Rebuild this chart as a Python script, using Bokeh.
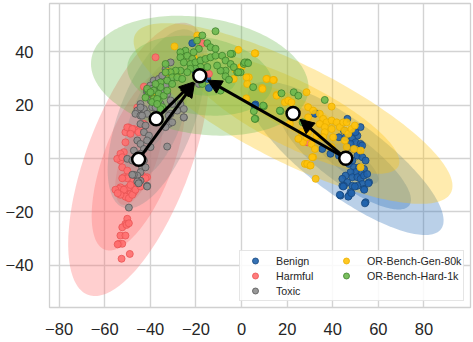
import numpy as np
from bokeh.plotting import figure
from bokeh.models import Range1d, FixedTicker, Arrow, NormalHead, Legend, LegendItem
from bokeh.embed import file_html
from bokeh.resources import INLINE

# ---------------- data ----------------
categories = ["Benign", "Harmful", "Toxic", "OR-Bench-Gen-80k", "OR-Bench-Hard-1k"]
fill_colors = ["#2063ad", "#ff6e6e", "#8e8e8e", "#ffc20a", "#6cb84e"]
edge_colors = ["#17477e", "#e85454", "#555555", "#e8ae00", "#3f822c"]
ell_colors = ["#2f6fb8", "#ff6e6e", "#8e8e8e", "#ffc20a", "#6cb84e"]

benign_x = [46.4, 44.9, 47.1, 49.3, 50.8, 48.6, 50.0, 52.2, 52.9, 47.8, 46.4, 49.3, 51.5, 50.8, 53.0,
            54.4, 48.6, 47.1, 49.3, 51.5, 53.7, 52.2, 50.0, 47.8, 45.6, 44.2, 46.4, 44.9, 48.6, 50.8,
            52.2, 53.7, 55.1, 55.9, 53.0, 50.8, 48.6, 53.7, 43.4, 47.1, 47.8, 54.4, 44.2, 42.7, 39.0,
            35.4, 32.5, 42.7, 50.0, 52.2, 45.6, 43.1, 46.8, 48.2, 54.1, 44.6, 49.7, 55.6, 53.8,
            -21.6, -20.2, -15.0, -14.3, 6.1, 32.2, 5.8]
benign_y = [14.9, 10.5, 9.3, 9.9, 8.6, 7.4, 6.1, 5.5, 4.9, 5.5, 4.3, 3.6, 2.4, 1.1, 0.5,
            -0.75, -0.75, -2.0, -3.3, -3.3, -3.9, -5.1, -5.1, -5.1, -6.4, -7.6, -8.9, -10.2, -7.0, -7.0,
            -7.6, -6.4, -5.8, -8.9, -9.5, -10.2, -10.2, -11.4, -13.9, -13.9, -12.6, -16.4, -10.2, 1.1, 1.8,
            3.6, 17.0, 8.0, 9.9, 11.8, 8.0, -13.6, -14.3, -13.0, -16.8, -10.5, -10.5, -9.3, -11.7,
            43.3, 33.0, 29.9, 26.5, 20.3, 16.8, 19.9]

harmful_x = [-49.4, -47.2, -50.9, -48.6, -45.7, -44.3, -50.9, -51.6, -53.1, -52.3, -50.1, -51.6, -53.1,
             -50.9, -49.4, -48.7, -47.2, -45.7, -50.1, -47.9, -41.4, -43.6, -45.1, -53.8, -51.6,
             -50.1, -50.9, -52.3, -53.1, -50.9, -53.8, -52.3, -49.0, -52.6, -54.3, -50.4, -49.4,
             -55.3, -51.6, -50.9, -49.4, -47.9, -46.5, -44.3, -42.1, -45.1, -50.1, -48.7, -53.1, -54.3,
             -52.3, -37.7, -17.2, -14.3, -45.7, -50.1, -47.9, -45.1, -48.7, -42.8, -53.1, -54.5, -52.3,
             -42.8, -39.2, 28.8]
harmful_y = [11.7, 11.1, 9.9, 9.9, 10.5, 11.7, 6.1, 2.4, -0.75, -3.3, -4.5, -7.0, -10.8,
             -11.4, -10.8, -13.3, -12.6, -9.5, -14.5, -8.3, -7.0, -6.4, -8.3, -11.4, -12.6,
             -22.6, -24.5, -25.8, -28.9, -28.9, -32.0, -32.0, -35.8, -37.6, -32.2, -24.9, -24.3,
             -11.7, -11.7, -14.3, -14.9, -13.6, -11.7, -10.5, -7.4, -8.6, -7.4, -9.9, -13.6, -13.0,
             -7.4, 38.0, 43.3, 31.8, 19.2, 11.7, 11.1, 9.9, 9.3, 13.0, 1.8, -0.1, 0.5,
             27.0, 23.0, 6.1]

toxic_x = [-38.5, -36.3, -40.0, -37.7, -41.4, -39.2, -35.5, -33.3, -31.1, -36.9, -44.3, -42.8, -45.7,
           -46.5, -44.3, -41.4, -39.2, -35.5, -30.4, -26.8, -28.2, -31.1, -31.9, -33.3, -25.3, -25.3,
           -44.3, -42.1, -42.8, -40.6, -45.7, -44.3, -47.2, -42.8, -39.9, -44.3, -50.1, -47.9, -42.8,
           -43.6, -44.3, -42.1, -45.7, -44.3, -45.1, -41.4, -49.4, -32.6, -41.4,
           -31.1, -33.3, -34.8, -36.9, -39.2, -34.8, -32.6, -31.1, -39.9, -37.7, -44.3, -43.6,
           -34.1, -31.9, -25.3, -30.4, -18.7, -41.4, -47.2, -45.7, -45.1, -41.4, -47.9]
toxic_y = [29.3, 29.9, 27.4, 26.8, 24.9, 24.3, 25.5, 27.4, 29.3, 23.0, 20.5, 18.6, 18.0,
           16.8, 16.1, 16.8, 19.3, 20.5, 20.5, 20.5, 18.0, 16.8, 13.0, 11.8, 18.6, 15.4,
           13.0, 12.4, 9.9, 8.6, 6.8, 5.5, 3.0, 3.6, 4.3, 1.8, -0.1, -0.75, -0.75,
           -3.3, -5.1, -3.3, -6.4, -8.3, -9.0, -10.2, -18.4, 4.5, 6.8,
           36.1, 33.6, 31.1, 28.0, 26.2, 25.5, 24.3, 21.8, 21.8, 19.2, 19.2, 16.1,
           18.6, 16.1, 15.5, 13.6, 28.0, 25.5, -6.1, -8.6, -9.3, -10.5, -6.1]

gen_x = [-29.4, -19.4, 6.1, -2.6, -0.4, 3.2, 2.5, 9.1, 11.3, 14.2, 15.4, 2.1, -3.4, -38.2, -31.9, -28.2,
         -1.4, 5.8, 0.0, 2.2, 9.2, 10.9, 13.9, 19.0, 15.4, 20.5, 21.9, 28.5, 29.2, 31.4, 39.5,
         34.3, 35.8, 37.3, 39.5, 34.3, 36.5, 41.7, 43.1, 44.6, 46.1, 36.5, 39.5, 29.2, 40.2, 35.8,
         29.2, 27.0, 28.5, 24.9, 30.7, 32.2, 39.5, 31.4, 27.8, 29.9, 45.3, 45.3, 46.8, 48.2, 46.1,
         49.7, 32.9, 26.3, 21.2, 32.5, 28.8, 30.3, 31.0, 52.2, 52.2, 49.3, -20.9, -32.6, -30.4]
gen_y = [42.1, 46.2, 39.5, 33.3, 34.3, 30.5, 28.0, 26.5, 29.9, 29.5, 23.9, 22.6, 29.9, 23.0, 32.4, 32.4,
         40.8, 39.5, 34.3, 30.5, 26.1, 29.9, 29.5, 21.1, 23.6, 21.8, 21.1, 24.9, 19.3, 18.0, 19.5,
         16.8, 14.9, 13.6, 14.3, 13.0, 11.8, 13.6, 11.8, 13.6, 13.6, 9.9, 11.1, 15.5, 8.0, 8.0,
         9.9, 6.1, 8.0, 7.4, 5.5, 3.6, 4.3, 0.5, -2.0, -2.6, 6.8, 10.5, 9.3, 11.1, 4.3,
         12.4, 8.6, 9.9, 13.0, -7.6, -2.0, -2.6, 0.5, -3.3, 3.0, 3.6, 37.8, 32.4, 31.8]

hard_x = [-17.2, -19.5, -15.0, -11.4, -13.6, -11.4, -18.7, -21.0, -24.6, -26.8, -26.8, -23.8, -21.6,
          -25.3, -22.4, -20.2, -18.0, -15.8, -13.6, -11.4, -8.5, -7.0, -4.8, -1.9, -4.1, 1.0, 2.5,
          -7.0, -9.2, -10.7, -7.0, -5.5, -15.0, -18.0, -20.2, -22.4, -23.8, -26.8, -28.9, -31.1,
          -33.3, -33.3, -30.4, -28.2, -26.0, -32.6, -30.4, -35.5, -35.5, -37.7, -38.5, -36.3, -34.1,
          -32.6, -40.6, -38.5, -36.3, -34.8, -39.2, -37.7, -42.1, -17.2, 6.1, 5.4, 17.1, 9.8,
          -41.4, -39.9, -37.0, -35.5, -37.0, -4.8, -3.4, -0.4, -9.2,
          1.4, 2.9, -1.4, 5.1, 9.5, 5.8, 17.5, 22.9, 24.9, 16.8, 36.5, 26.8]
hard_y = [46.2, 44.3, 43.3, 47.8, 41.8, 41.2, 41.2, 39.9, 40.5, 39.9, 38.0, 38.6, 37.4,
          36.1, 35.5, 36.1, 36.8, 37.4, 38.0, 38.6, 38.6, 36.8, 35.5, 32.4, 39.3, 35.5, 36.1,
          33.0, 33.0, 34.9, 30.9, 29.6, 34.4, 34.4, 33.7, 33.7, 32.4, 33.0, 33.0, 32.4,
          35.5, 32.4, 30.5, 30.5, 29.9, 29.3, 28.0, 28.6, 26.8, 28.0, 25.5, 24.3, 23.6,
          25.5, 24.9, 22.4, 21.8, 19.3, 21.2, 16.1, 22.9, 28.0, 14.9, 17.8, 17.8, 19.6,
          26.2, 24.9, 22.4, 18.6, 20.5, 39.3, 34.3, 32.4, 25.5,
          36.1, 35.8, 32.4, 26.8, 19.9, 14.9, 24.5, 24.9, 23.6, 18.0, 22.0, 13.6]

points_x = [benign_x, harmful_x, toxic_x, gen_x, hard_x]
points_y = [benign_y, harmful_y, toxic_y, gen_y, hard_y]

# group statistics (mean, std, correlation)
centroid_x = [45.7, -45.1, -37.4, 22.6, -18.3]
centroid_y = [0.1, -0.3, 14.9, 16.9, 31.1]
std_x = [14.3, 10.3, 7.1, 23.3, 15.9]
std_y = [9.6, 17.1, 11.2, 11.3, 7.5]
corr = [-0.81, 0.62, 0.57, -0.80, -0.20]
n_stds = [3, 2, 1]

arrow_from = [0, 0, 1, 2]
arrow_to = [3, 4, 4, 4]

x_ticks = [-80, -60, -40, -20, 0, 20, 40, 60, 80]
x_tick_labels = ["\u221280", "\u221260", "\u221240", "\u221220", "0", "20", "40", "60", "80"]
y_ticks = [-40, -20, 0, 20, 40]
y_tick_labels = ["\u221240", "\u221220", "0", "20", "40"]

# ---------------- figure ----------------
X0, X1 = -84.2, 100.4
Y0, Y1 = -55.9, 58.2
W, H = 473, 342
ML, MR, MT, MB = 49, 3, 3, 35
FW, FH = W - ML - MR, H - MT - MB

p = figure(width=W, height=H, output_backend="svg", toolbar_location=None,
           x_range=Range1d(X0, X1), y_range=Range1d(Y0, Y1),
           min_border_left=ML, min_border_right=MR, min_border_top=MT, min_border_bottom=MB)
p.background_fill_color = "white"
p.border_fill_color = "white"
p.outline_line_color = "#d0d0d0"
p.outline_line_width = 1.3

for ax, ticks, labels in ((p.xaxis, x_ticks, x_tick_labels), (p.yaxis, y_ticks, y_tick_labels)):
    ax.ticker = FixedTicker(ticks=ticks)
    ax.major_label_overrides = {t: l for t, l in zip(ticks, labels)}
    ax.axis_line_color = None
    ax.major_tick_line_color = None
    ax.minor_tick_line_color = None
    ax.major_tick_out = 0
    ax.major_label_text_font = "Liberation Sans"
    ax.major_label_text_font_size = "16.5px"
    ax.major_label_text_color = "#262626"
p.xaxis.major_label_standoff = 15
p.yaxis.major_label_standoff = 16
p.grid.grid_line_color = "#d3d3d3"
p.grid.grid_line_width = 1.4

# confidence ellipses (1, 2, 3 standard deviations)
t = np.linspace(0, 2 * np.pi, 200)
for i in range(len(categories)):
    rho = corr[i]
    rx, ry = np.sqrt(1 + rho), np.sqrt(1 - rho)
    u, v = rx * np.cos(t), ry * np.sin(t)
    c45 = np.sqrt(0.5)
    bx, by = (u - v) * c45, (u + v) * c45
    xs, ys = [], []
    for n in n_stds:
        xs.append(list(centroid_x[i] + bx * std_x[i] * n))
        ys.append(list(centroid_y[i] + by * std_y[i] * n))
    p.patches(xs, ys, fill_color=ell_colors[i], fill_alpha=0.33, line_color=None)

# points
point_renderers = []
for i in range(len(categories)):
    r = p.scatter(points_x[i], points_y[i], size=7, fill_color=fill_colors[i], fill_alpha=0.9,
                  line_color=edge_colors[i], line_width=0.8)
    point_renderers.append(r)

# arrows between centroids
sxp = FW / (X1 - X0)
syp = FH / (Y1 - Y0)
shrink = 9.0
for a, b in zip(arrow_from, arrow_to):
    xs_, ys_ = centroid_x[a], centroid_y[a]
    xt, yt = centroid_x[b], centroid_y[b]
    dx, dy = (xt - xs_) * sxp, (yt - ys_) * syp
    L = np.hypot(dx, dy)
    xe = xt - dx / L * shrink / sxp
    ye = yt - dy / L * shrink / syp
    p.add_layout(Arrow(x_start=xs_, y_start=ys_, x_end=xe, y_end=ye, line_width=3, line_color="black",
                       end=NormalHead(size=14, fill_color="black", line_color="black", line_width=1)))

# centroids
p.scatter(centroid_x, centroid_y, size=13, fill_color="white", line_color="black", line_width=2.5,
          level="overlay")

legend = Legend(items=[LegendItem(label=c, renderers=[r]) for c, r in zip(categories, point_renderers)],
                ncols=2, location=(190, 6), orientation="vertical",
                label_text_font="Liberation Sans", label_text_font_size="10.7px",
                label_text_color="#262626", glyph_width=26, glyph_height=15, label_height=15,
                label_width=57, label_standoff=8, spacing=0, padding=2, margin=0,
                border_line_color="#cccccc", border_line_width=1,
                background_fill_color="white", background_fill_alpha=0.85)
p.add_layout(legend)

open("out.html", "w").write(file_html(p, INLINE))
